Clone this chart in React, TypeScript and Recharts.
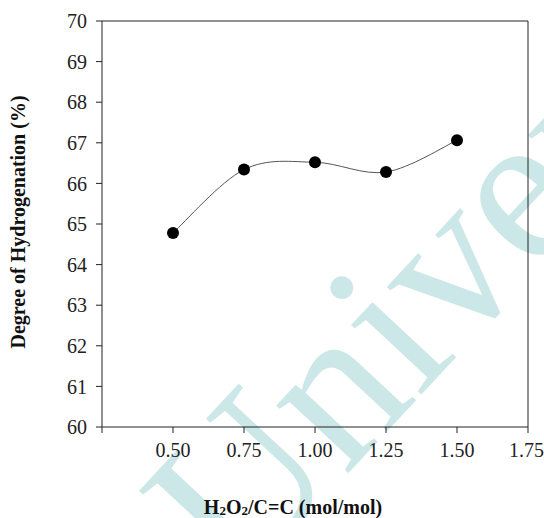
import React from 'react';
import { LineChart, Line, XAxis, YAxis, ReferenceLine } from 'recharts';

const ratios = [0.5, 0.75, 1.0, 1.25, 1.5];
const hydrogenation = [64.78, 66.34, 66.52, 66.28, 67.06];
const xTicks = [0.25, 0.5, 0.75, 1.0, 1.25, 1.5, 1.75];
const yTicks = [60, 61, 62, 63, 64, 65, 66, 67, 68, 69, 70];

const data = ratios.map((r, i) => ({ ratio: r, dh: hydrogenation[i] }));

const FONT = '"Liberation Serif", "Times New Roman", serif';

// Excel style smoothed line (uniform Catmull-Rom through the points)
const smoothCurve = (context: any) => {
    let pts: number[][] = [];
    return {
        areaStart() {},
        areaEnd() {},
        lineStart() {
            pts = [];
        },
        point(x: number, y: number) {
            pts.push([+x, +y]);
        },
        lineEnd() {
            const n = pts.length;
            if (!n) return;
            context.moveTo(pts[0][0], pts[0][1]);
            for (let i = 0; i < n - 1; i++) {
                const p0 = pts[Math.max(i - 1, 0)];
                const p1 = pts[i];
                const p2 = pts[i + 1];
                const p3 = pts[Math.min(i + 2, n - 1)];
                context.bezierCurveTo(
                    p1[0] + (p2[0] - p0[0]) / 6,
                    p1[1] + (p2[1] - p0[1]) / 6,
                    p2[0] - (p3[0] - p1[0]) / 6,
                    p2[1] - (p3[1] - p1[1]) / 6,
                    p2[0],
                    p2[1]
                );
            }
        },
    };
};

const XTitle = (props: any) => {
    const { viewBox } = props;
    const x = viewBox.x + viewBox.width / 2 - 22;
    const y = viewBox.y + viewBox.height - 4;
    return (
        <text x={x} y={y} textAnchor="middle" fontFamily={FONT} fontSize={20} fontWeight="bold" fill="#111">
            H<tspan fontSize={13} dy={1}>2</tspan>
            <tspan dy={-1}>O</tspan>
            <tspan fontSize={13} dy={1}>2</tspan>
            <tspan dy={-1}>/C=C (mol/mol)</tspan>
        </text>
    );
};

const YTitle = (props: any) => {
    const { viewBox } = props;
    const x = 25;
    const y = viewBox.y + viewBox.height / 2 - 2;
    return (
        <text
            x={x}
            y={y}
            transform={`rotate(-90, ${x}, ${y})`}
            textAnchor="middle"
            fontFamily={FONT}
            fontSize={20}
            fontWeight="bold"
            fill="#111"
        >
            Degree of Hydrogenation (%)
        </text>
    );
};

export default function App() {
    return (
        <div style={{ position: 'fixed', left: 0, top: 0, width: 544, height: 518, overflow: 'hidden', background: '#fff' }}>
            {/* watermark behind the chart */}
            <svg width={544} height={518} style={{ position: 'absolute', left: 0, top: 0 }}>
                <text
                    x={239}
                    y={590}
                    transform="rotate(-47, 239, 590)"
                    fontFamily={FONT}
                    fontSize={215}
                    fill="#cce7e7"
                >
                    Univer
                </text>
            </svg>
            <div style={{ position: 'absolute', left: 0, top: 0 }}>
                <LineChart width={544} height={518} data={data} margin={{ top: 21, right: 16, left: 0, bottom: 0 }}>
                    <XAxis
                        dataKey="ratio"
                        type="number"
                        domain={[0.25, 1.75]}
                        ticks={xTicks}
                        tickFormatter={(v: number) => (v === 0.25 ? '' : v.toFixed(2))}
                        height={91}
                        stroke="#222"
                        tickSize={6}
                        tickMargin={10}
                        tick={{ fontFamily: FONT, fontSize: 20, fill: '#222' }}
                        label={<XTitle />}
                    />
                    <YAxis
                        type="number"
                        domain={[60, 70]}
                        ticks={yTicks}
                        width={102}
                        stroke="#222"
                        tickSize={6}
                        tickMargin={9}
                        tick={{ fontFamily: FONT, fontSize: 20, fill: '#222' }}
                        label={<YTitle />}
                    />
                    <ReferenceLine y={70} stroke="#222" />
                    <ReferenceLine x={1.75} stroke="#222" />
                    <Line
                        dataKey="dh"
                        type={smoothCurve as any}
                        stroke="#555"
                        strokeWidth={1}
                        dot={{ r: 6, fill: '#000', stroke: '#000', strokeWidth: 0 }}
                        isAnimationActive={false}
                    />
                </LineChart>
            </div>
        </div>
    );
}
